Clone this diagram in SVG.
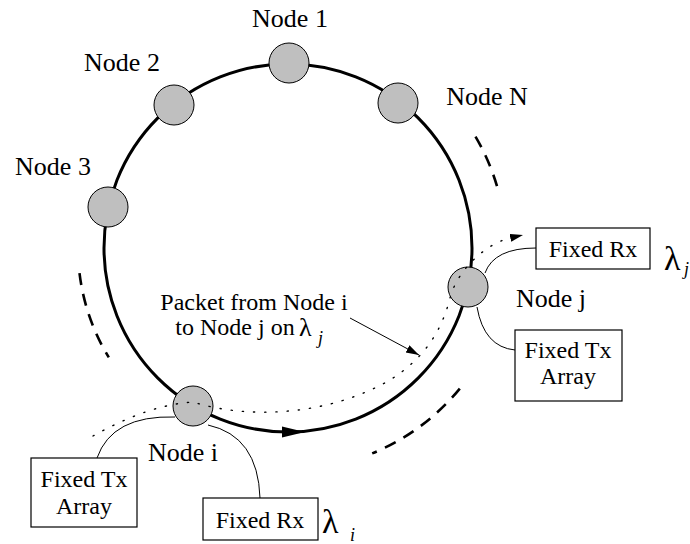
<svg xmlns="http://www.w3.org/2000/svg" width="690" height="544" viewBox="0 0 690 544">
  <style>
    text { font-family: "Liberation Serif", "Times New Roman", Times, "Nimbus Roman", "DejaVu Serif", serif; fill: #000; }
    .lbl { font-size: 26px; text-anchor: middle; }
    .box-text { font-size: 24px; text-anchor: middle; }
    .lam { font-size: 34px; }
    .sub { font-style: italic; font-size: 18px; }
    .node { fill: #bfbfbf; stroke: #000; stroke-width: 1; }
    .box { fill: #fff; stroke: #000; stroke-width: 1.2; }
    .ring { fill: none; stroke: #000; stroke-width: 3; }
    .gap { fill: none; stroke: #000; stroke-width: 2.6; stroke-dasharray: 12 9; }
    .link { fill: none; stroke: #000; stroke-width: 1; }
    .path { fill: none; stroke: #000; stroke-width: 1.4; stroke-dasharray: 1.2 10; stroke-linecap: round; }
  </style>
  <defs>
    <marker id="head" markerUnits="userSpaceOnUse" markerWidth="14" markerHeight="10" refX="13" refY="4" orient="auto">
      <path d="M0,0 L13,4 L0,8 z" fill="#000" stroke="none"/>
    </marker>
  </defs>

  <rect width="690" height="544" fill="#fff"/>

  <!-- the ring fibre -->
  <g id="ring">
    <circle class="ring" cx="288" cy="248" r="184"/>
  </g>

  <!-- stations on the ring -->
  <g id="node-1">
    <circle class="node" cx="289" cy="63" r="20"/>
    <text class="lbl" x="290" y="27">Node 1</text>
  </g>
  <g id="node-2">
    <circle class="node" cx="174" cy="105" r="20"/>
    <text class="lbl" x="122" y="71">Node 2</text>
  </g>
  <g id="node-n">
    <circle class="node" cx="398" cy="103" r="20"/>
    <text class="lbl" x="487" y="105">Node N</text>
  </g>
  <g id="node-3">
    <circle class="node" cx="108" cy="207" r="20"/>
    <text class="lbl" x="53" y="175">Node 3</text>
  </g>
  <g id="node-j">
    <circle class="node" cx="468" cy="287" r="20"/>
    <text class="lbl" x="551" y="307">Node j</text>
  </g>
  <g id="node-i">
    <circle class="node" cx="193" cy="406" r="20"/>
    <text class="lbl" x="183" y="461">Node i</text>
  </g>

  <!-- transceivers -->
  <g id="rx-j">
    <rect class="box" x="536" y="228" width="114" height="41"/>
    <text class="box-text" x="593" y="257">Fixed Rx</text>
  </g>
  <g id="tx-j">
    <rect class="box" x="515" y="330" width="107" height="71"/>
    <text class="box-text" x="568" y="358">Fixed Tx</text>
    <text class="box-text" x="568" y="384">Array</text>
  </g>
  <g id="tx-i">
    <rect class="box" x="31" y="458" width="106" height="69"/>
    <text class="box-text" x="84" y="487">Fixed Tx</text>
    <text class="box-text" x="84" y="514">Array</text>
  </g>
  <g id="rx-i">
    <rect class="box" x="203" y="498" width="115" height="42"/>
    <text class="box-text" x="260" y="528">Fixed Rx</text>
  </g>

  <!-- wavelength labels -->
  <g id="lambda-j">
    <text class="lam" x="664" y="270">λ</text>
    <text class="sub" x="684" y="275">j</text>
  </g>
  <g id="lambda-i">
    <text class="lam" x="322" y="533">λ</text>
    <text class="sub" x="350" y="541">i</text>
  </g>

  <!-- packet annotation -->
  <g id="packet-note">
    <text class="box-text" x="254" y="310">Packet from Node i</text>
    <text class="box-text" x="235" y="335">to Node j on</text>
    <text class="lam" x="299" y="336" style="font-size:26px">λ</text>
    <text class="sub" x="318" y="344">j</text>
  </g>

  <g id="connectors">
    <!-- direction of travel on the ring -->
    <polygon points="305,432 282,426.5 282,437.5" fill="#000"/>
    <!-- gaps: more stations not drawn -->
    <path class="gap" d="M475.5,136.7 A218,218 0 0 1 497.3,187.2"/>
    <path class="gap" d="M79.5,273.2 A210,210 0 0 0 108.8,357.4"/>
    <path class="gap" d="M459.8,388.6 A222,222 0 0 1 372.2,453.4"/>
    <!-- node to transceiver links -->
    <path class="link" d="M485,273 Q494,248 536,248"/>
    <path class="link" d="M477,307 Q484,347 515,350"/>
    <path class="link" d="M175,417 Q112,415 97,458"/>
    <path class="link" d="M208,425 Q258,436 260,498"/>
    <!-- lightpath from node i to node j -->
    <path class="path" d="M93,436 C125,418 160,404 193,402 C250,420 330,415 390,380 C425,358 442,330 450,298 C458,268 488,243 510,238"/>
    <path d="M510,238 L523,235" stroke="none" fill="none" marker-end="url(#head)"/>
    <!-- pointer to the lightpath -->
    <line class="link" x1="350" y1="318" x2="419" y2="355" marker-end="url(#head)"/>
  </g>
</svg>
